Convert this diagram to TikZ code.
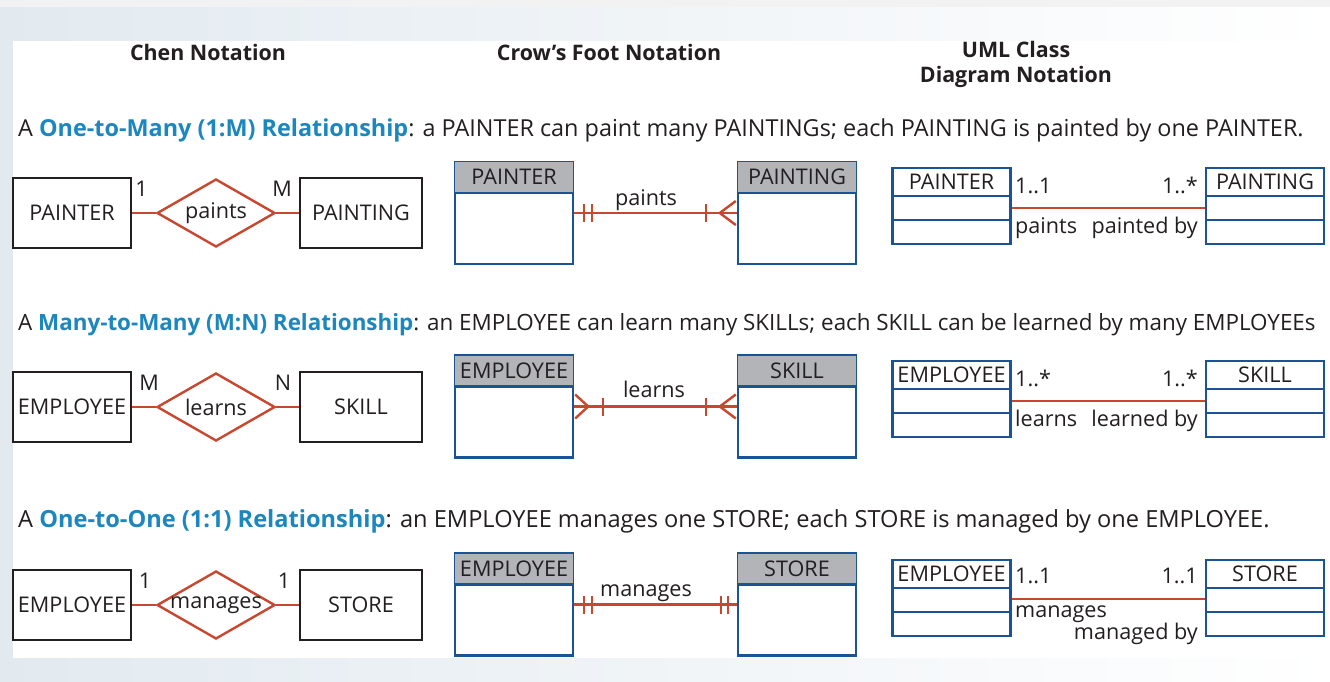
\documentclass[tikz,border=0pt]{standalone}
\usepackage{fontspec}
\setmainfont{Open Sans}
\usetikzlibrary{shapes.geometric,calc}

\definecolor{ink}{HTML}{231F20}
\definecolor{relred}{HTML}{C9472F}
\definecolor{boxblue}{HTML}{1A5494}
\definecolor{hdrgray}{HTML}{B2B4B7}
\definecolor{linkblue}{HTML}{1B87BE}
\definecolor{bgblue}{HTML}{E2EAF0}
\definecolor{topstrip}{HTML}{F2F2F2}

\newcommand{\relname}[1]{\textcolor{linkblue}{\bfseries #1}}

% crow's foot entity: name, x, y, title
\newcommand{\cfentity}[4]{%
  \node[cfbox] (#1) at (#2,#3) {};
  \fill[hdrgray] ([xshift=1.2pt,yshift=-1.2pt]#1.north west) rectangle ([xshift=-1.2pt,yshift=-32pt]#1.north east);
  \draw[boxline] ([yshift=-32pt]#1.north west) -- ([yshift=-32pt]#1.north east);
  \node[inner sep=0pt] (#1-t) at ([yshift=-16pt]#1.north) {#4};}

% UML class with two empty compartments: name, x, y, title
\newcommand{\umlclass}[4]{%
  \node[umlbox] (#1) at (#2,#3) {};
  \draw[boxline] ([yshift=-29pt]#1.north west) -- ([yshift=-29pt]#1.north east);
  \draw[boxline] ([yshift=-53pt]#1.north west) -- ([yshift=-53pt]#1.north east);
  \node[inner sep=0pt] (#1-t) at ([yshift=-15pt]#1.north) {#4};}

\begin{document}
\begin{tikzpicture}[x=1pt, y=-1pt,
  font=\fontsize{21.6}{26}\selectfont, text=ink,
  entity/.style={draw=ink, line width=2.4pt, minimum height=70pt, inner sep=0pt},
  rel/.style={diamond, draw=relred, line width=2.4pt, minimum width=118pt, minimum height=68pt, inner sep=0pt},
  link/.style={draw=relred, line width=2.4pt},
  boxline/.style={draw=boxblue, line width=2.4pt},
  cfbox/.style={boxline, minimum width=118pt, minimum height=102pt, inner sep=0pt},
  umlbox/.style={boxline, minimum width=118pt, minimum height=76pt, inner sep=0pt},
  heading/.style={font=\bfseries\fontsize{21.4}{25}\selectfont, align=center},
  sent/.style={anchor=base west, inner sep=0pt},
  card/.style={inner sep=0pt},
]
\useasboundingbox (0,0) rectangle (1330,681);

% backdrop
\shade[left color=bgblue, right color=white] (0,0) rectangle (1330,681);
\fill[white] (13,41) rectangle (1330,658);
\fill[topstrip] (0,0) rectangle (1330,7);

% column headings
\node[heading] (hchen) at (208,52) {Chen Notation};
\node[heading] (hcrow) at (609,52) {Crow’s Foot Notation};
\node[heading] (huml) at (1016,64.5) {UML Class\\Diagram Notation};

% relationship descriptions
\node[sent, font=\fontsize{23.4}{28}\selectfont] (s1) at (18,136) {A \relname{One-to-Many (1:M) Relationship}: a PAINTER can paint many PAINTINGs; each PAINTING is painted by one PAINTER.};
\node[sent, font=\fontsize{22.4}{28}\selectfont] (s2) at (18,330) {A \relname{Many-to-Many (M:N) Relationship}: an EMPLOYEE can learn many SKILLs; each SKILL can be learned by many EMPLOYEEs};
\node[sent, font=\fontsize{23.6}{28}\selectfont] (s3) at (18,527) {A \relname{One-to-One (1:1) Relationship}: an EMPLOYEE manages one STORE; each STORE is managed by one EMPLOYEE.};

% ---------------- Chen notation ----------------
\node[entity, minimum width=118pt] (c1a) at (72,213) {PAINTER};
\node[rel, label=center:paints] (c1r) at (216,213) {};
\node[entity, minimum width=122pt] (c1b) at (361,213) {PAINTING};
\draw[link] (c1a) -- (c1r);
\draw[link] (c1r) -- (c1b);
\node[card, anchor=base] (c1m) at (141.5,196) {1};
\node[card, anchor=base] (c1n) at (282,196) {M};

\node[entity, minimum width=118pt] (c2a) at (72,407) {EMPLOYEE};
\node[rel, label=center:learns] (c2r) at (216,407) {};
\node[entity, minimum width=122pt] (c2b) at (361,407) {SKILL};
\draw[link] (c2a) -- (c2r);
\draw[link] (c2r) -- (c2b);
\node[card, anchor=base] (c2m) at (149,390) {M};
\node[card, anchor=base] (c2n) at (283,390) {N};

\node[entity, minimum width=118pt] (c3a) at (72,605) {EMPLOYEE};
\node[rel, label=center:manages] (c3r) at (216,605) {};
\node[entity, minimum width=122pt] (c3b) at (361,605) {STORE};
\draw[link] (c3a) -- (c3r);
\draw[link] (c3r) -- (c3b);
\node[card, anchor=base] (c3m) at (145,588) {1};
\node[card, anchor=base] (c3n) at (284,588) {1};

% ---------------- Crow's foot notation ----------------
\cfentity{k1a}{514}{213}{PAINTER}
\cfentity{k1b}{797}{213}{PAINTING}
\draw[link] (k1a.east) -- (k1b.west);
\draw[link] ([xshift=10pt]k1a.east) ++(0,-9) -- ++(0,18);
\draw[link] ([xshift=18pt]k1a.east) ++(0,-9) -- ++(0,18);
\draw[link] ([xshift=-31pt]k1b.west) ++(0,-9) -- ++(0,18);
\draw[link] ([xshift=-1pt,yshift=12pt]k1b.west) -- ([xshift=-17pt]k1b.west) -- ([xshift=-1pt,yshift=-12pt]k1b.west);
\node[anchor=base, inner sep=0pt] (k1l) at (646,205) {paints};

\cfentity{k2a}{514}{406.5}{EMPLOYEE}
\cfentity{k2b}{797}{406.5}{SKILL}
\draw[link] (k2a.east) -- (k2b.west);
\draw[link] ([xshift=1pt,yshift=12pt]k2a.east) -- ([xshift=14pt]k2a.east) -- ([xshift=1pt,yshift=-12pt]k2a.east);
\draw[link] ([xshift=29pt]k2a.east) ++(0,-9) -- ++(0,18);
\draw[link] ([xshift=-31pt]k2b.west) ++(0,-9) -- ++(0,18);
\draw[link] ([xshift=-1pt,yshift=12pt]k2b.west) -- ([xshift=-17pt]k2b.west) -- ([xshift=-1pt,yshift=-12pt]k2b.west);
\node[anchor=base, inner sep=0pt] (k2l) at (654,397) {learns};

\cfentity{k3a}{514}{604.5}{EMPLOYEE}
\cfentity{k3b}{797}{604.5}{STORE}
\draw[link] (k3a.east) -- (k3b.west);
\draw[link] ([xshift=10pt]k3a.east) ++(0,-9) -- ++(0,18);
\draw[link] ([xshift=18pt]k3a.east) ++(0,-9) -- ++(0,18);
\draw[link] ([xshift=-16pt]k3b.west) ++(0,-9) -- ++(0,18);
\draw[link] ([xshift=-9pt]k3b.west) ++(0,-9) -- ++(0,18);
\node[anchor=base, inner sep=0pt] (k3l) at (646,596) {manages};

% ---------------- UML class diagram notation ----------------
\umlclass{u1a}{951.5}{206}{PAINTER}
\umlclass{u1b}{1265}{206}{PAINTING}
\draw[link] ([yshift=-2pt]u1a.east) -- ([yshift=-2pt]u1b.west);
\node[card, anchor=base west] (u1am) at (1015,193) {1..1};
\node[card, anchor=base east] (u1bm) at (1198,193) {1..*};
\node[card, anchor=base west] (u1ar) at (1015,233) {paints};
\node[card, anchor=base east] (u1br) at (1198,233) {painted by};

\umlclass{u2a}{951.5}{399}{EMPLOYEE}
\umlclass{u2b}{1265}{399}{SKILL}
\draw[link] ([yshift=-2pt]u2a.east) -- ([yshift=-2pt]u2b.west);
\node[card, anchor=base west] (u2am) at (1015,386) {1..*};
\node[card, anchor=base east] (u2bm) at (1198,386) {1..*};
\node[card, anchor=base west] (u2ar) at (1015,426) {learns};
\node[card, anchor=base east] (u2br) at (1198,426) {learned by};

\umlclass{u3a}{951.5}{598}{EMPLOYEE}
\umlclass{u3b}{1265}{598}{STORE}
\draw[link] ([yshift=-1pt]u3a.east) -- ([yshift=-1pt]u3b.west);
\node[card, anchor=base west] (u3am) at (1015,583) {1..1};
\node[card, anchor=base east] (u3bm) at (1198,583) {1..1};
\node[card, anchor=base west] (u3ar) at (1015,617) {manages};
\node[card, anchor=base east] (u3br) at (1198,639) {managed by};
\end{tikzpicture}
\end{document}
